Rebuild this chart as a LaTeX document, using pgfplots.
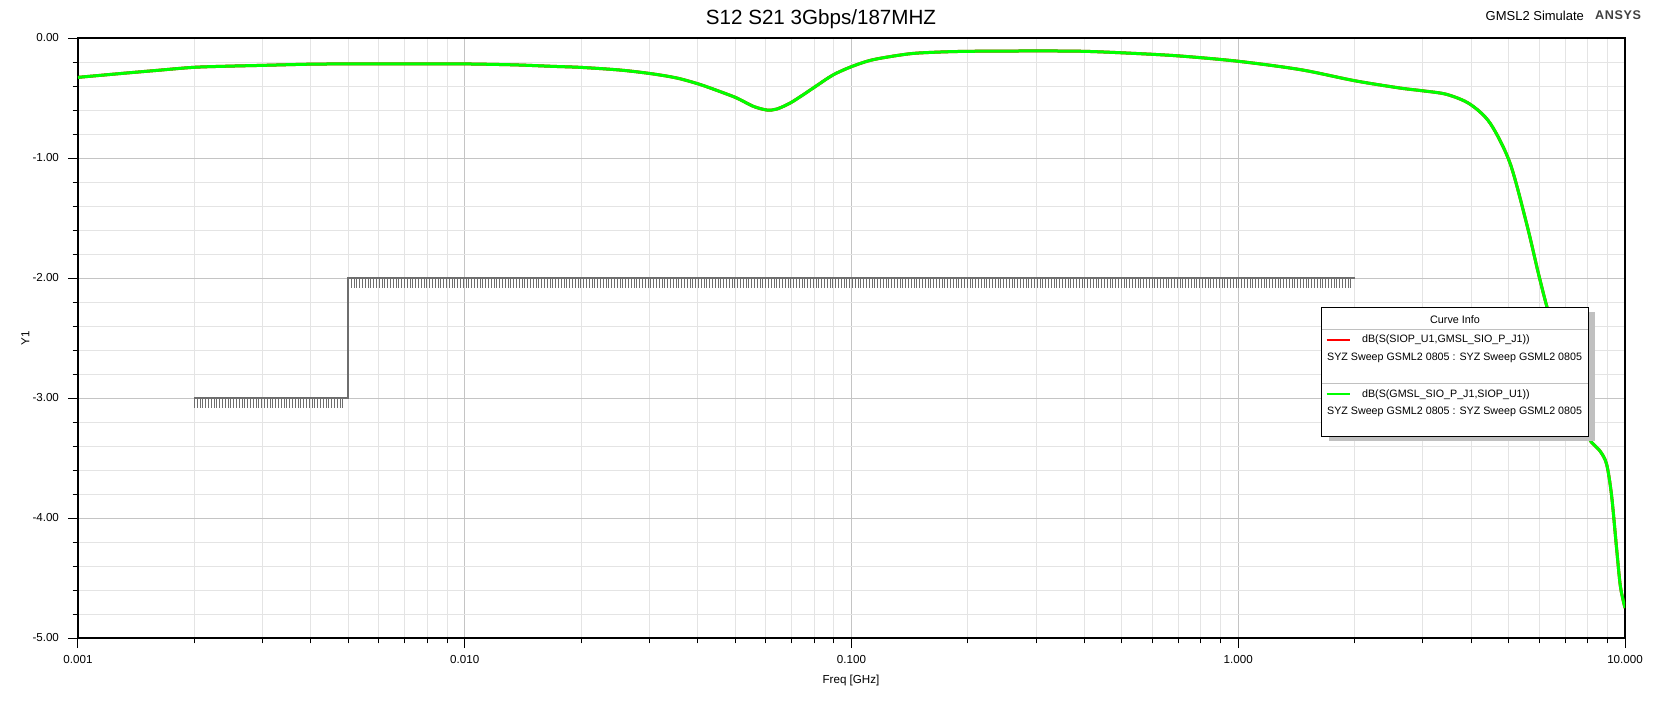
\documentclass[border=0pt]{standalone}
\usepackage{pgfplots}
\pgfplotsset{compat=1.18}
\usetikzlibrary{decorations.pathreplacing}
\usepackage{fontspec}
\setmainfont{Liberation Sans}
\definecolor{gridmaj}{HTML}{C4C4C4}
\definecolor{gridmin}{HTML}{E4E4E4}
\definecolor{maskgray}{HTML}{6E6E6E}
\definecolor{shadowgray}{HTML}{C0C0C0}
\definecolor{sepgray}{HTML}{C0C0C0}
\definecolor{ansysgray}{HTML}{404040}
\begin{document}
\begin{tikzpicture}
\useasboundingbox (-39pt,-32pt) rectangle (790.5pt,319pt);
\begin{axis}[
  xmode=log, log basis x=10,
  scale only axis, width=773.5pt, height=300pt,
  xmin=0.001, xmax=10, ymin=-5, ymax=0,
  xtick={0.001,0.01,0.1,1,10},
  xticklabels={0.001,0.010,0.100,1.000,10.000},
  minor xtick={0.002,0.003,0.004,0.005,0.006,0.007,0.008,0.009,
               0.02,0.03,0.04,0.05,0.06,0.07,0.08,0.09,
               0.2,0.3,0.4,0.5,0.6,0.7,0.8,0.9,
               2,3,4,5,6,7,8,9},
  ytick={-5,-4,-3,-2,-1,0},
  yticklabels={-5.00,-4.00,-3.00,-2.00,-1.00,0.00},
  minor y tick num=4,
  grid=both,
  major grid style={draw=gridmaj, line width=0.5pt},
  minor grid style={draw=gridmin, line width=0.5pt},
  tick align=outside, xtick pos=bottom, ytick pos=left,
  major tick length=5pt, minor tick length=2.7pt,
  every tick/.style={black, line width=0.5pt},
  axis line style={black, line width=0.6pt},
  ticklabel style={font=\fontsize{5.8}{7}\selectfont},
  xticklabel style={yshift=0pt},
  yticklabel style={xshift=-1pt},
]
% limit mask
\addplot[draw=maskgray, line width=0.85pt, forget plot] coordinates {(0.002,-3) (0.005,-3) (0.005,-2) (2,-2)};
\addplot[draw=none, forget plot, postaction={draw=maskgray, line width=0.4pt, decorate,
  decoration={border, segment length=1.4pt, amplitude=4.8pt, angle=-90}}]
  coordinates {(0.002,-3) (0.005,-3)};
\addplot[draw=none, forget plot, postaction={draw=maskgray, line width=0.4pt, decorate,
  decoration={border, segment length=1.4pt, amplitude=4.8pt, angle=-90}}]
  coordinates {(0.005,-2) (2,-2)};
% S12 (hidden beneath S21)
\addplot[red, line width=1.5pt, smooth] table {
f dB
0.001 -0.328
0.0013 -0.295
0.0016 -0.27
0.002 -0.244
0.0025 -0.234
0.003 -0.228
0.004 -0.218
0.005 -0.216
0.007 -0.215
0.01 -0.216
0.0135 -0.224
0.0168 -0.236
0.02 -0.245
0.0252 -0.267
0.0303 -0.297
0.0353 -0.333
0.0402 -0.383
0.0448 -0.436
0.0505 -0.50
0.0557 -0.569
0.0604 -0.60
0.0641 -0.592
0.0694 -0.542
0.0751 -0.472
0.0813 -0.397
0.0898 -0.306
0.1005 -0.236
0.114 -0.18
0.14 -0.133
0.163 -0.119
0.2 -0.111
0.3 -0.108
0.4 -0.111
0.536 -0.128
0.707 -0.15
1.0 -0.194
1.45 -0.264
2.0 -0.356
2.62 -0.417
3.0 -0.44
3.46 -0.47
3.97 -0.55
4.48 -0.71
5.04 -1.04
5.57 -1.55
5.97 -1.96
6.27 -2.23
6.6 -2.48
7.0 -2.75
7.5 -3.06
8.04 -3.33
8.61 -3.44
8.96 -3.55
9.23 -3.81
9.51 -4.25
9.73 -4.57
10 -4.75
};
% S21
\addplot[color={rgb,255:red,0;green,255;blue,0}, line width=1.5pt, smooth] table {
f dB
0.001 -0.328
0.0013 -0.295
0.0016 -0.27
0.002 -0.244
0.0025 -0.234
0.003 -0.228
0.004 -0.218
0.005 -0.216
0.007 -0.215
0.01 -0.216
0.0135 -0.224
0.0168 -0.236
0.02 -0.245
0.0252 -0.267
0.0303 -0.297
0.0353 -0.333
0.0402 -0.383
0.0448 -0.436
0.0505 -0.50
0.0557 -0.569
0.0604 -0.60
0.0641 -0.592
0.0694 -0.542
0.0751 -0.472
0.0813 -0.397
0.0898 -0.306
0.1005 -0.236
0.114 -0.18
0.14 -0.133
0.163 -0.119
0.2 -0.111
0.3 -0.108
0.4 -0.111
0.536 -0.128
0.707 -0.15
1.0 -0.194
1.45 -0.264
2.0 -0.356
2.62 -0.417
3.0 -0.44
3.46 -0.47
3.97 -0.55
4.48 -0.71
5.04 -1.04
5.57 -1.55
5.97 -1.96
6.27 -2.23
6.6 -2.48
7.0 -2.75
7.5 -3.06
8.04 -3.33
8.61 -3.44
8.96 -3.55
9.23 -3.81
9.51 -4.25
9.73 -4.57
10 -4.75
};
\end{axis}
% titles and labels
\node[font=\fontsize{10.3}{12}\selectfont] at (371.5pt,309.5pt) {S12 S21 3Gbps/187MHZ};
\node[font=\fontsize{6.5}{8}\selectfont] at (728.4pt,311pt) {GMSL2 Simulate};
\node[font=\fontsize{6.3}{8}\selectfont\bfseries, text=ansysgray] at (770pt,311.5pt) {A\kern0.3pt N\kern0.3pt S\kern0.3pt Y\kern0.3pt S};
\node[font=\fontsize{5.8}{7}\selectfont] at (386.5pt,-21pt) {Freq [GHz]};
\node[font=\fontsize{5.8}{7}\selectfont, rotate=90] at (-26.3pt,149.7pt) {Y1};
% curve info box
\fill[shadowgray] (625.35pt,98.65pt) rectangle (758.65pt,162.85pt);
\filldraw[fill=white, draw=black, line width=0.6pt] (621.85pt,100.65pt) rectangle (755.15pt,165.35pt);
\node[font=\fontsize{5.4}{7}\selectfont] at (688.5pt,159pt) {Curve Info};
\draw[sepgray, line width=0.5pt] (621.85pt,154.35pt) -- (755.15pt,154.35pt);
\draw[red, line width=0.8pt] (624.35pt,149pt) -- (636pt,149pt);
\node[font=\fontsize{5.35}{7}\selectfont, anchor=west, inner sep=0pt] at (641.85pt,149pt) {dB(S(SIOP\_U1,GMSL\_SIO\_P\_J1))};
\node[font=\fontsize{5.35}{7}\selectfont, anchor=west, inner sep=0pt] at (624.35pt,139.85pt) {SYZ Sweep GSML2 0805 : SYZ Sweep GSML2 0805};
\draw[sepgray, line width=0.5pt] (621.85pt,127.35pt) -- (755.15pt,127.35pt);
\draw[color={rgb,255:red,0;green,255;blue,0}, line width=0.8pt] (624.35pt,121.85pt) -- (636pt,121.85pt);
\node[font=\fontsize{5.35}{7}\selectfont, anchor=west, inner sep=0pt] at (641.85pt,121.5pt) {dB(S(GMSL\_SIO\_P\_J1,SIOP\_U1))};
\node[font=\fontsize{5.35}{7}\selectfont, anchor=west, inner sep=0pt] at (624.35pt,113.15pt) {SYZ Sweep GSML2 0805 : SYZ Sweep GSML2 0805};
\end{tikzpicture}
\end{document}
